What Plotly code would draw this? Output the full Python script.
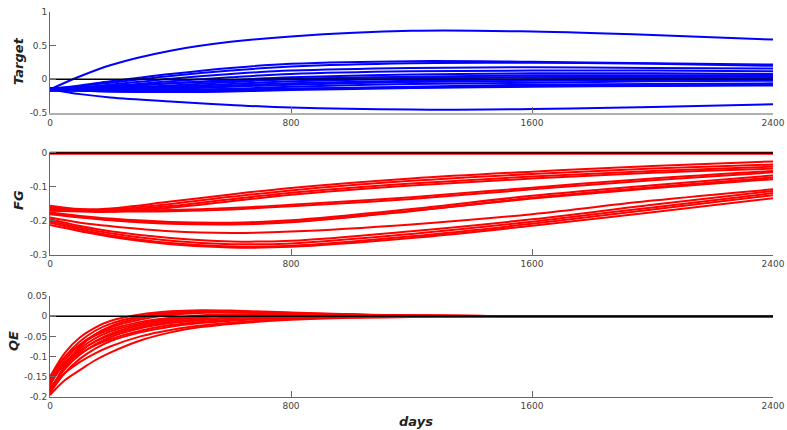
import plotly.graph_objects as go

# ---------------- data ----------------
days_axis = [0, 2400]
x_ticks = [0, 800, 1600, 2400]
x_ticktext = ["0", "800", "1600", "2400"]

# Target panel (blue)
target_days = [0, 100, 200, 400, 600, 800, 1200, 1600, 2000, 2400]
target_lines = [
    [-0.15, 0.045, 0.21, 0.425, 0.557, 0.637, 0.72, 0.71, 0.66, 0.59],
    [-0.15, -0.22, -0.27, -0.33, -0.38, -0.42, -0.45, -0.44, -0.41, -0.37],
    [-0.14, -0.09, -0.03, 0.08, 0.17, 0.23, 0.27, 0.26, 0.24, 0.22],
    [-0.16, -0.10, -0.05, 0.05, 0.13, 0.19, 0.24, 0.245, 0.23, 0.20],
    [-0.15, -0.12, -0.08, 0.01, 0.08, 0.13, 0.17, 0.18, 0.17, 0.16],
    [-0.13, -0.12, -0.10, -0.03, 0.03, 0.08, 0.12, 0.13, 0.13, 0.12],
    [-0.16, -0.14, -0.12, -0.06, -0.01, 0.03, 0.07, 0.09, 0.09, 0.08],
    [-0.14, -0.14, -0.13, -0.09, -0.04, 0.00, 0.04, 0.06, 0.06, 0.06],
    [-0.17, -0.15, -0.14, -0.11, -0.07, -0.03, 0.01, 0.03, 0.04, 0.04],
    [-0.15, -0.15, -0.15, -0.13, -0.09, -0.06, -0.02, 0.00, 0.01, 0.02],
    [-0.16, -0.16, -0.16, -0.14, -0.11, -0.08, -0.04, -0.02, -0.01, 0.00],
    [-0.14, -0.16, -0.17, -0.16, -0.14, -0.11, -0.07, -0.05, -0.03, -0.02],
    [-0.17, -0.17, -0.18, -0.18, -0.16, -0.14, -0.11, -0.08, -0.07, -0.06],
    [-0.16, -0.17, -0.18, -0.19, -0.18, -0.16, -0.13, -0.11, -0.10, -0.09],
    [-0.15, -0.16, -0.17, -0.17, -0.16, -0.14, -0.12, -0.10, -0.09, -0.08],
    [-0.13, -0.12, -0.10, -0.06, -0.02, 0.01, 0.03, 0.03, 0.02, 0.01],
]

# FG panel (red)
fg_days = [0, 100, 200, 400, 600, 800, 1200, 1600, 2000, 2400]
fg_lines = [
    [-0.155, -0.165, -0.163, -0.143, -0.122, -0.103, -0.075, -0.055, -0.038, -0.025],
    [-0.160, -0.168, -0.167, -0.150, -0.129, -0.110, -0.082, -0.062, -0.046, -0.034],
    [-0.165, -0.170, -0.170, -0.156, -0.136, -0.117, -0.090, -0.069, -0.053, -0.040],
    [-0.170, -0.172, -0.173, -0.161, -0.142, -0.123, -0.096, -0.075, -0.058, -0.046],
    [-0.165, -0.170, -0.170, -0.168, -0.162, -0.152, -0.130, -0.102, -0.075, -0.053],
    [-0.160, -0.168, -0.172, -0.171, -0.166, -0.157, -0.135, -0.107, -0.080, -0.057],
    [-0.175, -0.185, -0.193, -0.203, -0.205, -0.198, -0.165, -0.126, -0.095, -0.066],
    [-0.180, -0.190, -0.198, -0.208, -0.210, -0.204, -0.171, -0.132, -0.101, -0.072],
    [-0.178, -0.188, -0.196, -0.206, -0.209, -0.202, -0.170, -0.134, -0.104, -0.077],
    [-0.190, -0.205, -0.215, -0.230, -0.235, -0.231, -0.210, -0.180, -0.140, -0.107],
    [-0.195, -0.215, -0.230, -0.250, -0.260, -0.258, -0.230, -0.195, -0.152, -0.112],
    [-0.200, -0.220, -0.236, -0.258, -0.268, -0.266, -0.238, -0.202, -0.160, -0.118],
    [-0.205, -0.225, -0.242, -0.265, -0.275, -0.273, -0.245, -0.208, -0.166, -0.124],
    [-0.212, -0.230, -0.246, -0.268, -0.278, -0.276, -0.250, -0.214, -0.174, -0.133],
]
fg_zero = [0, 0]

# QE panel (red)
qe_days = [0, 50, 100, 150, 200, 300, 400, 500, 600, 800, 1000, 1200, 1600, 2000, 2400]
qe_lines = [
    [-0.150, -0.090, -0.052, -0.028, -0.012, 0.004, 0.012, 0.015, 0.014, 0.009, 0.005, 0.002, 0, 0, 0],
    [-0.160, -0.100, -0.062, -0.036, -0.019, 0.000, 0.009, 0.012, 0.012, 0.008, 0.004, 0.002, 0, 0, 0],
    [-0.190, -0.120, -0.075, -0.045, -0.025, -0.004, 0.006, 0.010, 0.010, 0.007, 0.004, 0.002, 0, 0, 0],
    [-0.150, -0.100, -0.070, -0.048, -0.033, -0.014, -0.004, 0.002, 0.004, 0.004, 0.003, 0.001, 0, 0, 0],
    [-0.170, -0.115, -0.080, -0.055, -0.038, -0.018, -0.007, -0.001, 0.002, 0.003, 0.002, 0.001, 0, 0, 0],
    [-0.160, -0.115, -0.085, -0.063, -0.047, -0.026, -0.014, -0.007, -0.003, 0.000, 0.001, 0.001, 0, 0, 0],
    [-0.180, -0.130, -0.095, -0.070, -0.052, -0.030, -0.017, -0.010, -0.005, -0.001, 0, 0, 0, 0, 0],
    [-0.155, -0.118, -0.092, -0.072, -0.057, -0.036, -0.022, -0.014, -0.009, -0.003, -0.001, 0, 0, 0, 0],
    [-0.190, -0.140, -0.105, -0.080, -0.062, -0.040, -0.026, -0.017, -0.011, -0.004, -0.002, -0.001, 0, 0, 0],
    [-0.175, -0.140, -0.113, -0.092, -0.075, -0.050, -0.034, -0.023, -0.016, -0.007, -0.003, -0.001, 0, 0, 0],
    [-0.195, -0.158, -0.133, -0.109, -0.090, -0.060, -0.040, -0.027, -0.019, -0.009, -0.004, -0.002, 0, 0, 0],
    [-0.165, -0.108, -0.070, -0.045, -0.028, -0.008, 0.003, 0.008, 0.009, 0.006, 0.003, 0.001, 0, 0, 0],
    [-0.185, -0.125, -0.088, -0.062, -0.044, -0.022, -0.010, -0.003, 0.001, 0.002, 0.002, 0.001, 0, 0, 0],
]
zero_line = [0, 0]

y1_ticks = [-0.5, 0, 0.5, 1]
y1_text = ["-0.5", "0", "0.5", "1"]
y2_ticks = [-0.3, -0.2, -0.1, 0]
y2_text = ["-0.3", "-0.2", "-0.1", "0"]
y3_ticks = [-0.2, -0.15, -0.1, -0.05, 0, 0.05]
y3_text = ["-0.2", "-0.15", "-0.1", "-0.05", "0", "0.05"]

# ---------------- figure ----------------
BLUE = "#0000ff"
RED = "#ff0000"
fig = go.Figure()

for ys in target_lines:
    fig.add_trace(go.Scatter(x=target_days, y=ys, mode="lines", xaxis="x", yaxis="y",
                             line=dict(color=BLUE, width=2, shape="spline", smoothing=1)))
fig.add_trace(go.Scatter(x=days_axis, y=zero_line, mode="lines", xaxis="x", yaxis="y",
                         line=dict(color="black", width=1.5)))

fig.add_trace(go.Scatter(x=days_axis, y=fg_zero, mode="lines", xaxis="x2", yaxis="y2",
                         line=dict(color=RED, width=3.5)))
for ys in fg_lines:
    fig.add_trace(go.Scatter(x=fg_days, y=ys, mode="lines", xaxis="x2", yaxis="y2",
                             line=dict(color=RED, width=2, shape="spline", smoothing=1)))
fig.add_trace(go.Scatter(x=days_axis, y=zero_line, mode="lines", xaxis="x2", yaxis="y2",
                         line=dict(color="black", width=1.5)))

for ys in qe_lines:
    fig.add_trace(go.Scatter(x=qe_days, y=ys, mode="lines", xaxis="x3", yaxis="y3",
                             line=dict(color=RED, width=2, shape="spline", smoothing=1)))
fig.add_trace(go.Scatter(x=days_axis, y=zero_line, mode="lines", xaxis="x3", yaxis="y3",
                         line=dict(color="black", width=1.5)))

tickfont = dict(family="DejaVu Sans", size=9, color="#444444")

def xax(anchor, linecolor="#666666", lw=1):
    return dict(domain=[0, 1], anchor=anchor, range=[0, 2400], tickvals=x_ticks,
                ticktext=x_ticktext, ticks="inside", ticklen=6, tickcolor="#666666",
                showline=True, linecolor=linecolor, linewidth=lw, showgrid=False,
                zeroline=False, tickfont=tickfont, fixedrange=True, automargin=False)

def yax(anchor, dom, rng, tv, tt):
    return dict(domain=dom, anchor=anchor, range=rng, tickvals=tv, ticktext=tt,
                ticks="inside", ticklen=6, tickcolor="#666666", showline=True,
                linecolor="#666666", linewidth=1, showgrid=False, zeroline=False,
                tickfont=tickfont, fixedrange=True, automargin=False)

fig.update_layout(
    width=787, height=430,
    margin=dict(l=50, r=14, t=12, b=33, autoexpand=False),
    paper_bgcolor="white", plot_bgcolor="white",
    showlegend=False,
    xaxis=xax("y", "#b0b0b0", 2),
    yaxis=yax("x", [0.7377, 1.0], [-0.5, 1], y1_ticks, y1_text),
    xaxis2=xax("y2"),
    yaxis2=yax("x2", [0.3688, 0.6374], [-0.3, 0.004], y2_ticks, y2_text),
    xaxis3=xax("y3"),
    yaxis3=yax("x3", [0.0, 0.2623], [-0.2, 0.05], y3_ticks, y3_text),
)

label_font = dict(family="DejaVu Sans", size=13, color="#222222", weight="bold", style="italic")
W = 723.0
H = 385.0
def px_x(p):
    return (p - 50) / W
def px_y(p):
    return (397 - p) / H

fig.add_annotation(text="Target", xref="paper", yref="paper", x=px_x(18), y=px_y(61),
                   textangle=-90, showarrow=False, font=label_font, xanchor="center", yanchor="middle")
fig.add_annotation(text="FG", xref="paper", yref="paper", x=px_x(18), y=px_y(200),
                   textangle=-90, showarrow=False, font=label_font, xanchor="center", yanchor="middle")
fig.add_annotation(text="QE", xref="paper", yref="paper", x=px_x(13), y=px_y(341),
                   textangle=-90, showarrow=False, font=label_font, xanchor="center", yanchor="middle")
fig.add_annotation(text="days", xref="paper", yref="paper", x=px_x(416), y=px_y(421),
                   showarrow=False, font=label_font, xanchor="center", yanchor="middle")

fig.write_html("out.html",
               config={"displayModeBar": False},
               post_script="document.body.style.margin='0';document.body.style.overflow='hidden';")
